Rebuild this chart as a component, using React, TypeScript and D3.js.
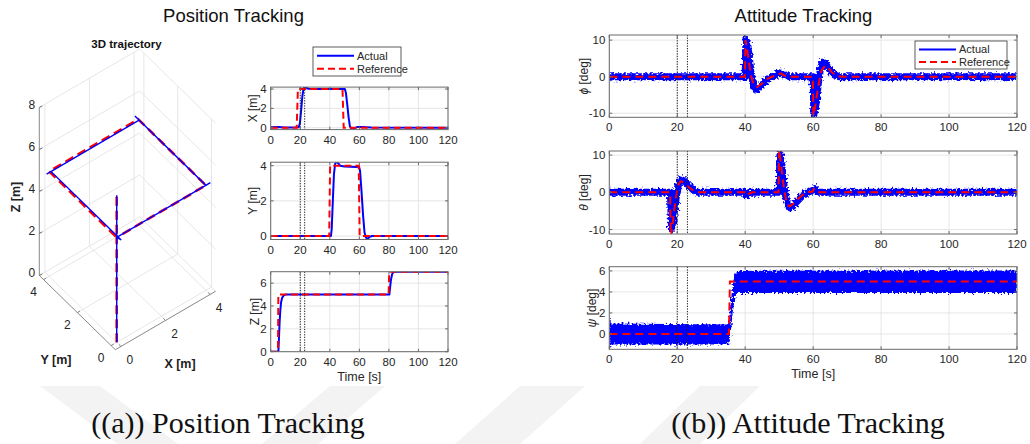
import React from "react";
import * as d3 from "d3";

type Pt = [number, number];
type Pt3 = [number, number, number];
type BandPt = [number, number, number];

// ================= DATA =================
const timeTicks = [0, 20, 40, 60, 80, 100, 120];
const markerTimes = [20, 23];
const legendLabels = ["Actual", "Reference"];

const xyTicks = [0, 2, 4];
const zTicks = [0, 2, 4, 6];
const angleTicks = [-10, 0, 10];
const psiTicks = [0, 2, 4, 6];

const ticks3dXY = [0, 2, 4];
const ticks3dZ = [0, 2, 4, 6, 8];

// Position X [m]
const posXRef: Pt[] = [[0, 0], [17.6, 0], [18.4, 4], [48.6, 4], [49.4, 0], [120, 0]];
const posXAct: Pt[] = [
  [0, 0.05], [5, 0.08], [10, 0.03], [15, 0.03], [19, 0.05], [19.8, 0.5], [20.6, 1.8], [21.4, 3.2],
  [22.2, 4.05], [23, 4.2], [24, 4.15], [25.5, 4.03], [30, 4.0], [50.2, 4.0], [50.9, 3.6], [51.8, 2.4],
  [52.7, 1.1], [53.6, 0.15], [54.6, -0.12], [55.5, -0.14], [57, -0.02], [59, 0.08], [62, 0.06],
  [68, 0.01], [120, 0],
];
// Position Y [m]
const posYRef: Pt[] = [[0, 0], [39.6, 0], [40.2, 4], [59.6, 4], [60.2, 0], [120, 0]];
const posYAct: Pt[] = [
  [0, 0], [40.8, 0], [41.3, 0.4], [42, 1.9], [42.8, 3.5], [43.6, 4.1], [44.6, 4.25], [45.6, 4.15],
  [47, 4.0], [50, 3.95], [58, 3.93], [59.8, 3.95], [60.5, 3.7], [61.5, 2.5], [62.5, 1.2], [63.5, 0.2],
  [64.5, -0.1], [65.6, -0.16], [67, -0.05], [68.5, 0], [120, 0],
];
// Position Z [m]
const posZRef: Pt[] = [[0, 0], [4.9, 0], [5.2, 5], [79.8, 5], [80.2, 7], [120, 7]];
const posZAct: Pt[] = [
  [0, 0], [5.2, 0], [5.6, 1.2], [6.0, 2.5], [6.5, 3.6], [7.0, 4.3], [7.7, 4.7], [8.6, 4.9], [10, 5.0],
  [80.3, 5], [80.8, 5.6], [81.4, 6.3], [82.2, 6.8], [83.2, 6.97], [85, 7], [120, 7],
];

// Roll phi [deg]
const phiRef: Pt[] = [
  [0, 0], [39.9, 0], [40.1, 10], [40.8, 6], [41.6, 0.5], [42.5, -2.2], [43.5, -2.8], [45, -1.8],
  [46.5, -0.6], [48, 0], [49.5, 0.6], [50.5, 0.9], [51.5, 0.3], [53, 0], [59.9, 0], [60.1, -10.6],
  [60.8, -7], [61.6, -2], [62.5, 1.8], [63.5, 3.0], [64.5, 2.4], [65.5, 1.2], [67, 0.2], [68.5, 0], [120, 0],
];
const phiAct: Pt[] = [
  [0, 0], [40, 0], [40.2, 10.2], [40.7, 9], [41.4, 3.5], [42.2, -1.5], [43, -3.6], [43.8, -3.3],
  [45, -2.2], [46.5, -0.8], [48, 0], [49.5, 0.7], [50.3, 1.1], [51.2, 0.6], [53, 0], [60, 0],
  [60.2, -10.5], [60.8, -8], [61.5, -2], [62.2, 2.5], [62.8, 4.0], [63.6, 3.6], [64.8, 2], [66, 0.7],
  [67.5, 0], [120, 0],
];
// Pitch theta [deg]
const thetaRef: Pt[] = [
  [0, 0], [17.9, 0], [18.1, -11.8], [18.7, -8], [19.5, -2], [20.3, 2], [21, 3], [22, 2.6], [23.5, 1.3],
  [25, 0.3], [26.5, 0], [39.9, 0], [40.1, -0.7], [41, -0.4], [42, 0], [49.8, 0], [50, 11.5], [50.6, 7],
  [51.4, 1], [52.2, -2.8], [53, -3.8], [54, -3.2], [55.5, -1.8], [57, -0.6], [58.5, 0], [59.8, 0.2],
  [60.2, 0.9], [60.8, 0.3], [61.5, 0], [120, 0],
];
const thetaAct: Pt[] = [
  [0, 0], [18, 0], [18.3, -9.8], [18.9, -7], [19.6, -2], [20.3, 1.8], [21, 3.5], [21.8, 3.3], [23, 2.2],
  [24.5, 0.8], [26, 0], [40, 0], [40.2, -0.9], [40.8, -0.4], [41.5, 0], [50, 0], [50.2, 10.5],
  [50.8, 7], [51.6, 0.5], [52.4, -3], [53.2, -4.2], [54, -3.8], [55.5, -2.2], [57, -0.8], [58.5, 0],
  [60, 0.6], [60.5, 1.0], [61.2, 0.3], [62, 0], [120, 0],
];
// Yaw psi [deg]: reference and noisy actual envelope [t, low, high]
const psiRef: Pt[] = [[0, 0], [35.2, 0], [35.5, 5], [120, 5]];
const psiActBand: BandPt[] = [
  [0, -1.4, 1.5], [0.6, -1.0, 1.0], [35, -1.0, 0.9], [35.3, -0.9, 1.6], [35.8, 0.3, 3.2],
  [36.3, 2.0, 4.6], [36.9, 3.4, 5.6], [37.6, 3.9, 6.0], [120, 3.9, 6.05],
];

// 3D trajectory (x, y, z) in metres
const traj3dAct: Pt3[] = [
  [0, 0, 0], [0, 0, 5], [4.2, 0, 5], [4, 0, 5], [4, 4.2, 5], [4, 3.95, 5], [-0.15, 3.95, 5],
  [0.05, 3.95, 5], [0.05, -0.2, 5], [0, 0, 5], [0, 0, 7],
];
const traj3dRef: Pt3[] = [[0, 0, 0], [0, 0, 5], [4, 0, 5], [4, 4, 5], [0, 4, 5], [0, 0, 5], [0, 0, 7]];

// ================= STYLE / LAYOUT =================
const FONT = "'Liberation Sans', Arial, Helvetica, sans-serif";
const SERIF = "'Liberation Serif', 'Times New Roman', serif";
const BLUE = "#0000ff";
const RED = "#ff0000";
const GRID = "#e0e0e0";
const AXIS = "#6a6a6a";
const TXT = "#262626";

interface PlotProps {
  id: string;
  l: number; r: number; t: number; b: number;
  yDomain: [number, number];
  yTicks: number[];
  ylabel: React.ReactNode;
  ylabelX: number;
  reference: Pt[];
  actual?: Pt[];
  band?: BandPt[];
  actualWidth: number;
  jitter?: boolean;
  refDash: string;
  showTime?: boolean;
}

function TimePlot(p: PlotProps) {
  const x = d3.scaleLinear().domain([0, 120]).range([p.l, p.r]);
  const y = d3.scaleLinear().domain(p.yDomain).range([p.b, p.t]);
  const line = d3.line<Pt>().x((d) => x(d[0])).y((d) => y(d[1]));
  const area = d3.area<BandPt>().x((d) => x(d[0])).y0((d) => y(d[1])).y1((d) => y(d[2]));
  const clip = `clip-${p.id}`;
  return (
    <g>
      <defs>
        <clipPath id={clip}>
          <rect x={p.l} y={p.t} width={p.r - p.l} height={p.b - p.t} />
        </clipPath>
      </defs>
      <rect x={p.l} y={p.t} width={p.r - p.l} height={p.b - p.t} fill="#fff" />
      {timeTicks.map((t) => (
        <line key={"gx" + t} x1={x(t)} x2={x(t)} y1={p.t} y2={p.b} stroke={GRID} strokeWidth={0.8} />
      ))}
      {p.yTicks.map((v) => (
        <line key={"gy" + v} x1={p.l} x2={p.r} y1={y(v)} y2={y(v)} stroke={GRID} strokeWidth={0.8} />
      ))}
      <g clipPath={`url(#${clip})`}>
        <g filter={p.jitter ? "url(#jitter)" : undefined}>
          {p.band && <path d={area(p.band) || ""} fill={BLUE} />}
          {p.actual && (
            <path d={line(p.actual) || ""} fill="none" stroke={BLUE} strokeWidth={p.actualWidth}
              strokeLinejoin="round" strokeLinecap="butt" />
          )}
        </g>
        <path d={line(p.reference) || ""} fill="none" stroke={RED} strokeWidth={2}
          strokeDasharray={p.refDash} />
        {markerTimes.map((t) => (
          <line key={"m" + t} x1={x(t)} x2={x(t)} y1={p.t} y2={p.b} stroke="#222"
            strokeWidth={1} strokeDasharray="1.3 1.3" />
        ))}
      </g>
      <rect x={p.l} y={p.t} width={p.r - p.l} height={p.b - p.t} fill="none" stroke={AXIS} strokeWidth={1} />
      {timeTicks.map((t) => (
        <g key={"tx" + t}>
          <line x1={x(t)} x2={x(t)} y1={p.b} y2={p.b - 3} stroke={AXIS} />
          <line x1={x(t)} x2={x(t)} y1={p.t} y2={p.t + 3} stroke={AXIS} />
          <text x={x(t)} y={p.b + 14} textAnchor="middle" fontSize={11.5} fill={TXT}>{t}</text>
        </g>
      ))}
      {p.yTicks.map((v) => (
        <g key={"ty" + v}>
          <line x1={p.l} x2={p.l + 3} y1={y(v)} y2={y(v)} stroke={AXIS} />
          <line x1={p.r} x2={p.r - 3} y1={y(v)} y2={y(v)} stroke={AXIS} />
          <text x={p.l - 4} y={y(v) + 4} textAnchor="end" fontSize={11.5} fill={TXT}>{v}</text>
        </g>
      ))}
      <text transform={`translate(${p.ylabelX},${(p.t + p.b) / 2}) rotate(-90)`} textAnchor="middle"
        dominantBaseline="middle" fontSize={12} fill={TXT}>{p.ylabel}</text>
      {p.showTime && (
        <text x={(p.l + p.r) / 2} y={p.b + 29} textAnchor="middle" fontSize={12.5} fill={TXT}>Time [s]</text>
      )}
    </g>
  );
}

function Legend({ x, y, w, h }: { x: number; y: number; w: number; h: number }) {
  const rows = [y + h * 0.3, y + h * 0.75];
  return (
    <g>
      <rect x={x} y={y} width={w} height={h} fill="#fff" stroke="#333" strokeWidth={0.8} />
      <line x1={x + 4} x2={x + 41} y1={rows[0]} y2={rows[0]} stroke={BLUE} strokeWidth={2} />
      <line x1={x + 4} x2={x + 41} y1={rows[1]} y2={rows[1]} stroke={RED} strokeWidth={2} strokeDasharray="7 4" />
      {legendLabels.map((s, i) => (
        <text key={s} x={x + 44} y={rows[i] + 4} fontSize={11} fill={TXT}>{s}</text>
      ))}
    </g>
  );
}

function Trajectory3D() {
  const lim: [number, number] = [-0.25, 4.25];
  const sx = d3.scaleLinear().domain(lim).range([0, 1]);
  const sy = d3.scaleLinear().domain(lim).range([0, 1]);
  const sz = d3.scaleLinear().domain([0, 8]).range([0, 1]);
  const O: Pt = [115.35, 349.7];
  const VX: Pt = [100.35, -58.5];
  const VY: Pt = [-76.05, -74.25];
  const VZ: Pt = [0, -168];
  const proj = (x: number, y: number, z: number): Pt => [
    O[0] + sx(x) * VX[0] + sy(y) * VY[0] + sz(z) * VZ[0],
    O[1] + sx(x) * VX[1] + sy(y) * VY[1] + sz(z) * VZ[1],
  ];
  const seg = (a: Pt3, b: Pt3, k: string, stroke = GRID) => {
    const p1 = proj(a[0], a[1], a[2]);
    const p2 = proj(b[0], b[1], b[2]);
    return <line key={k} x1={p1[0]} y1={p1[1]} x2={p2[0]} y2={p2[1]} stroke={stroke} strokeWidth={0.8} />;
  };
  const [x0, x1] = lim;
  const [y0, y1] = lim;
  const grid: React.ReactNode[] = [];
  ticks3dXY.forEach((v) => {
    grid.push(seg([v, y0, 0], [v, y1, 0], "fx" + v));
    grid.push(seg([x0, v, 0], [x1, v, 0], "fy" + v));
    grid.push(seg([v, y1, 0], [v, y1, 8], "wx" + v));
    grid.push(seg([x1, v, 0], [x1, v, 8], "wy" + v));
  });
  ticks3dZ.forEach((v) => {
    grid.push(seg([x0, y1, v], [x1, y1, v], "zl" + v));
    grid.push(seg([x1, y0, v], [x1, y1, v], "zr" + v));
  });
  const l3 = d3.line<Pt3>().x((d) => proj(d[0], d[1], d[2])[0]).y((d) => proj(d[0], d[1], d[2])[1]);
  return (
    <g>
      {grid}
      {seg([x0, y0, 0], [x1, y0, 0], "ax", AXIS)}
      {seg([x0, y0, 0], [x0, y1, 0], "ay", AXIS)}
      {seg([x0, y1, 0], [x0, y1, 8], "az", AXIS)}
      {ticks3dXY.map((v) => {
        const p = proj(v, y0, 0);
        const q = proj(x0, v, 0);
        return (
          <g key={"t3" + v}>
            {seg([v, y0, 0], [v, y0 + 0.12, 0], "tkx" + v, AXIS)}
            {seg([x0, v, 0], [x0 + 0.12, v, 0], "tky" + v, AXIS)}
            <text x={p[0] + 9} y={p[1] + 18} textAnchor="middle" fontSize={12} fill={TXT}>{v}</text>
            <text x={q[0] - 10} y={q[1] + 16} textAnchor="middle" fontSize={12} fill={TXT}>{v}</text>
          </g>
        );
      })}
      {ticks3dZ.map((v) => {
        const p = proj(x0, y1, v);
        return (
          <g key={"tz" + v}>
            <line x1={p[0]} x2={p[0] + 3} y1={p[1]} y2={p[1] - 1.5} stroke={AXIS} />
            <text x={p[0] - 4} y={p[1] + 1.5} textAnchor="end" fontSize={12} fill={TXT}>{v}</text>
          </g>
        );
      })}
      <path d={l3(traj3dRef) || ""} fill="none" stroke={RED} strokeWidth={2.6} strokeDasharray="9 5" />
      <path d={l3(traj3dAct) || ""} fill="none" stroke={BLUE} strokeWidth={1.4} />
      <text x={126.5} y={48} textAnchor="middle" fontSize={11.5} fontWeight="bold" fill="#111">3D trajectory</text>
      <text transform="translate(20,197) rotate(-90)" textAnchor="middle" fontSize={12.5} fontWeight="bold" fill="#222">Z [m]</text>
      <text x={56} y={364} textAnchor="middle" fontSize={12.5} fontWeight="bold" fill="#222">Y [m]</text>
      <text x={180} y={368} textAnchor="middle" fontSize={12.5} fontWeight="bold" fill="#222">X [m]</text>
    </g>
  );
}

export default function App() {
  const pos = { l: 270.7, r: 448 };
  const att = { l: 609.3, r: 1017 };
  return (
    <svg width={1030} height={444} viewBox="0 0 1030 444"
      style={{ position: "absolute", left: 0, top: 0, display: "block", background: "#fff" }}
      fontFamily={FONT}>
      <defs>
        <filter id="jitter" filterUnits="userSpaceOnUse" x={560} y={20} width={470} height={350}>
          <feTurbulence type="fractalNoise" baseFrequency="0.5 0.5" numOctaves={2} seed={5} result="n" />
          <feDisplacementMap in="SourceGraphic" in2="n" scale={7} xChannelSelector="R" yChannelSelector="G" />
        </filter>
      </defs>
      <rect width={1030} height={444} fill="#fff" />
      {/* faint watermark */}
      <g fill="#f3f3f3">
        <polygon points="40,386 100,386 178,444 118,444" />
        <polygon points="330,386 385,386 318,444 262,444" />
        <polygon points="520,386 585,386 520,444 455,444" />
        <polygon points="700,386 760,386 700,444 640,444" />
      </g>

      <text x={233.5} y={22} textAnchor="middle" fontSize={18.5} fill="#111">Position Tracking</text>
      <text x={803.5} y={22} textAnchor="middle" fontSize={18.5} fill="#111">Attitude Tracking</text>

      <Trajectory3D />

      <TimePlot id="px" {...pos} t={87.1} b={129.6} yDomain={[-0.2, 4.2]} yTicks={xyTicks}
        ylabel="X [m]" ylabelX={254} reference={posXRef} actual={posXAct} actualWidth={2} refDash="7 4" />
      <TimePlot id="py" {...pos} t={162.2} b={239.5} yDomain={[-0.2, 4.2]} yTicks={xyTicks}
        ylabel="Y [m]" ylabelX={254} reference={posYRef} actual={posYAct} actualWidth={2} refDash="7 4" />
      <TimePlot id="pz" {...pos} t={271.7} b={351.7} yDomain={[0, 7]} yTicks={zTicks}
        ylabel="Z [m]" ylabelX={256} reference={posZRef} actual={posZAct} actualWidth={2} refDash="7 4" showTime />
      <Legend x={313} y={47} w={88} h={29} />

      <TimePlot id="phi" {...att} t={35} b={117.3} yDomain={[-11.1, 11.4]} yTicks={angleTicks}
        ylabel={<><tspan fontStyle="italic">ϕ</tspan> [deg]</>} ylabelX={585} reference={phiRef}
        actual={phiAct} actualWidth={7} jitter refDash="8 5" />
      <TimePlot id="theta" {...att} t={151} b={234} yDomain={[-11.2, 11.1]} yTicks={angleTicks}
        ylabel={<><tspan fontStyle="italic">θ</tspan> [deg]</>} ylabelX={585} reference={thetaRef}
        actual={thetaAct} actualWidth={7} jitter refDash="8 5" />
      <TimePlot id="psi" {...att} t={266.7} b={349.3} yDomain={[-1.46, 6.4]} yTicks={psiTicks}
        ylabel={<><tspan fontStyle="italic">ψ</tspan> [deg]</>} ylabelX={593} reference={psiRef}
        band={psiActBand} actualWidth={2} jitter refDash="8 5" showTime />
      <Legend x={915} y={41} w={92} h={28} />

      <text x={228} y={433} textAnchor="middle" fontFamily={SERIF} fontSize={30} fill="#111">((a)) Position Tracking</text>
      <text x={808} y={433} textAnchor="middle" fontFamily={SERIF} fontSize={30} fill="#111">((b)) Attitude Tracking</text>
    </svg>
  );
}
